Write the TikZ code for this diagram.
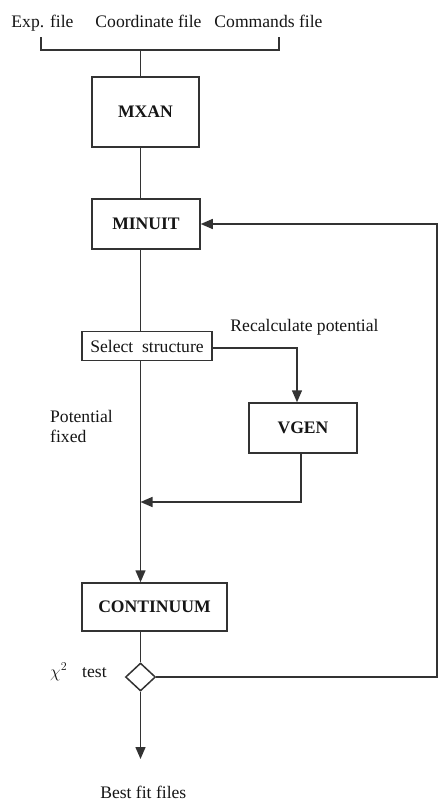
\documentclass[tikz,border=0pt]{standalone}
\usepackage{fontspec}
\setmainfont{Liberation Serif}
\usetikzlibrary{arrows.meta,shapes.geometric}
\definecolor{lc}{HTML}{333333}
\definecolor{tc}{HTML}{151515}
\begin{document}
\begin{tikzpicture}[x=1pt,y=1pt,
  every node/.style={font=\fontsize{17.6}{21}\selectfont, text=tc},
  ln/.style={draw=lc, line width=1.5pt},
  arr/.style={ln, -{Triangle[length=12pt,width=10pt]}},
  box/.style={draw=lc, line width=1.5pt, inner sep=0pt, font=\bfseries\fontsize{17.6}{21}\selectfont},
  plainbox/.style={draw=lc, line width=1.5pt, inner sep=0pt}]
\useasboundingbox (0,0) rectangle (438,-801);

% top labels
\node[anchor=base] (expf) at (42.5,-27) {Exp. file};
\node[anchor=base] (coordf) at (148.5,-27) {Coordinate file};
\node[anchor=base] (cmdf) at (268.5,-27) {Commands file};

% boxes
\node[box, minimum width=107pt, minimum height=70pt] (mxan) at (145.5,-112) {MXAN};
\node[box, minimum width=108pt, minimum height=50pt] (minuit) at (146,-224) {MINUIT};
\node[plainbox, minimum width=130pt, minimum height=29pt] (sel) at (147,-346) {Select\ \ structure};
\node[box, minimum width=108pt, minimum height=50pt] (vgen) at (303,-428) {VGEN};
\node[box, minimum width=145pt, minimum height=48pt] (cont) at (154.5,-607) {CONTINUUM};
\node[diamond, aspect=1.07, draw=lc, line width=1.5pt, inner sep=0pt, minimum width=30pt, minimum height=28pt] (dia) at (140.5,-677) {};

% other labels
\node[anchor=base] (recalc) at (304.5,-331) {Recalculate potential};
\node[anchor=north west, align=left, inner sep=0pt, font=\fontsize{17.6}{20}\selectfont] (pfix) at (50,-410.5) {Potential\\fixed};
\node[anchor=base west, inner sep=0pt] (chi) at (50,-677) {$\chi^{2}$};
\node[anchor=base west, inner sep=0pt] (test) at (82,-677) {test};
\node[anchor=base] (best) at (143.3,-798.5) {Best fit files};

% helper coordinates
\coordinate (bl) at (41,-37);
\coordinate (br) at (279,-37);
\coordinate (bm) at (140.5,-50);
\coordinate (join) at (140.5,-502);
\coordinate (endp) at (140.5,-759);
\coordinate (rc) at (437,-224);

% connectors
\draw[ln] (bl) |- (bm) -| (br);
\draw[ln] (bm) -- (bm |- mxan.north);
\draw[ln] (bm |- mxan.south) -- (bm |- minuit.north);
\draw[ln] (bm |- minuit.south) -- (bm |- sel.north);
\draw[arr] (bm |- sel.south) -- (bm |- cont.north);
\draw[arr] ([yshift=-2pt]sel.east) -| ([xshift=-6pt]vgen.north);
\draw[arr] ([xshift=-2pt]vgen.south) |- (join);
\draw[ln] (dia.north |- cont.south) -- (dia.north);
\draw[arr] (dia.south) -- (endp);
\draw[arr] (dia.east) -| (rc) -- (minuit.east);
\end{tikzpicture}
\end{document}
